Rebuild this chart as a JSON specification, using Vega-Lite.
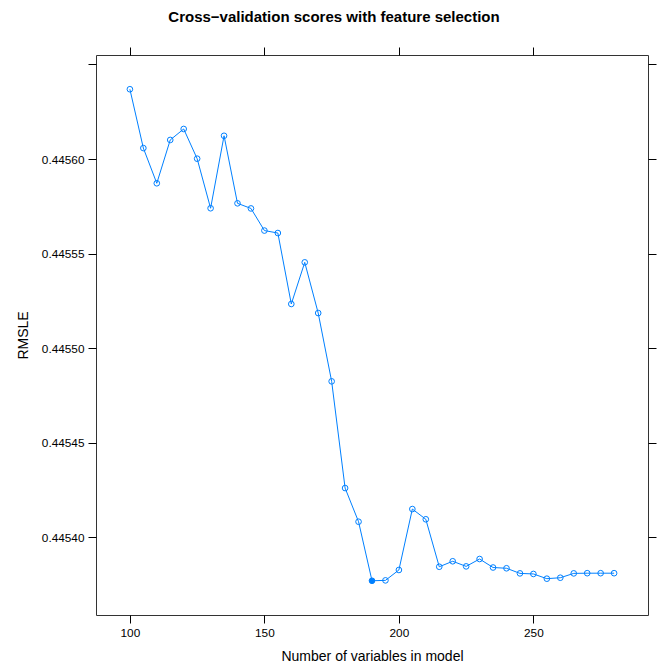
{
  "$schema": "https://vega.github.io/schema/vega-lite/v6.json",
  "width": 552,
  "height": 560,
  "autosize": {"type": "none"},
  "padding": {"left": 96, "top": 55, "right": 19, "bottom": 51},
  "background": "white",
  "title": {
    "text": "Cross−validation scores with feature selection",
    "font": "Liberation Sans",
    "fontSize": 15,
    "fontWeight": "bold",
    "color": "black",
    "anchor": "middle",
    "frame": "group",
    "dx": -38,
    "offset": 22
  },
  "config": {
    "view": {"stroke": "#333", "strokeWidth": 1},
    "axis": {
      "grid": false,
      "domain": false,
      "tickColor": "black",
      "tickSize": 8,
      "tickWidth": 1,
      "labelFont": "Liberation Sans",
      "labelFontSize": 11.8,
      "labelColor": "black",
      "titleFont": "Liberation Sans",
      "titleFontSize": 14,
      "titleFontWeight": "normal",
      "titleColor": "black"
    }
  },
  "data": {
    "values": [
      {"n": 100, "rmsle": 0.4456369, "best": false},
      {"n": 105, "rmsle": 0.4456058, "best": false},
      {"n": 110, "rmsle": 0.4455872, "best": false},
      {"n": 115, "rmsle": 0.4456101, "best": false},
      {"n": 120, "rmsle": 0.4456159, "best": false},
      {"n": 125, "rmsle": 0.4456002, "best": false},
      {"n": 130, "rmsle": 0.4455740, "best": false},
      {"n": 135, "rmsle": 0.4456123, "best": false},
      {"n": 140, "rmsle": 0.4455766, "best": false},
      {"n": 145, "rmsle": 0.4455739, "best": false},
      {"n": 150, "rmsle": 0.4455622, "best": false},
      {"n": 155, "rmsle": 0.4455609, "best": false},
      {"n": 160, "rmsle": 0.4455234, "best": false},
      {"n": 165, "rmsle": 0.4455454, "best": false},
      {"n": 170, "rmsle": 0.4455186, "best": false},
      {"n": 175, "rmsle": 0.4454825, "best": false},
      {"n": 180, "rmsle": 0.4454261, "best": false},
      {"n": 185, "rmsle": 0.4454083, "best": false},
      {"n": 190, "rmsle": 0.4453771, "best": true},
      {"n": 195, "rmsle": 0.4453773, "best": false},
      {"n": 200, "rmsle": 0.4453828, "best": false},
      {"n": 205, "rmsle": 0.4454150, "best": false},
      {"n": 210, "rmsle": 0.4454096, "best": false},
      {"n": 215, "rmsle": 0.4453845, "best": false},
      {"n": 220, "rmsle": 0.4453874, "best": false},
      {"n": 225, "rmsle": 0.4453847, "best": false},
      {"n": 230, "rmsle": 0.4453886, "best": false},
      {"n": 235, "rmsle": 0.4453841, "best": false},
      {"n": 240, "rmsle": 0.4453837, "best": false},
      {"n": 245, "rmsle": 0.4453810, "best": false},
      {"n": 250, "rmsle": 0.4453807, "best": false},
      {"n": 255, "rmsle": 0.4453782, "best": false},
      {"n": 260, "rmsle": 0.4453787, "best": false},
      {"n": 265, "rmsle": 0.4453810, "best": false},
      {"n": 270, "rmsle": 0.4453811, "best": false},
      {"n": 275, "rmsle": 0.4453811, "best": false},
      {"n": 280, "rmsle": 0.4453811, "best": false}
    ]
  },
  "encoding": {
    "x": {
      "field": "n",
      "type": "quantitative",
      "scale": {"domain": [87.4, 292.6], "nice": false, "zero": false}
    },
    "y": {
      "field": "rmsle",
      "type": "quantitative",
      "scale": {"domain": [0.445359, 0.445655], "nice": false, "zero": false}
    }
  },
  "layer": [
    {
      "mark": {"type": "line", "color": "#0080ff", "strokeWidth": 1},
      "encoding": {
        "x": {
          "field": "n",
          "type": "quantitative",
          "axis": {
            "orient": "bottom",
            "values": [100, 150, 200, 250],
            "title": "Number of variables in model",
            "labelPadding": 4,
            "titlePadding": 11
          }
        },
        "y": {
          "field": "rmsle",
          "type": "quantitative",
          "axis": {
            "orient": "left",
            "values": [0.4454, 0.44545, 0.4455, 0.44555, 0.4456, 0.44565],
            "labelExpr": "datum.value > 0.445625 ? '' : format(datum.value, '.5f')",
            "title": "RMSLE",
            "labelPadding": 4,
            "titlePadding": 11
          }
        }
      }
    },
    {
      "mark": {"type": "point", "filled": false, "color": "#0080ff", "size": 32, "strokeWidth": 1, "opacity": 1},
      "encoding": {
        "x": {
          "field": "n",
          "type": "quantitative",
          "axis": {
            "orient": "top",
            "values": [100, 150, 200, 250],
            "labels": false,
            "title": null
          }
        },
        "y": {
          "field": "rmsle",
          "type": "quantitative",
          "axis": {
            "orient": "right",
            "values": [0.4454, 0.44545, 0.4455, 0.44555, 0.4456, 0.44565],
            "labels": false,
            "title": null
          }
        }
      }
    },
    {
      "transform": [{"filter": "datum.best"}],
      "mark": {"type": "point", "filled": true, "color": "#0080ff", "size": 32, "opacity": 1},
      "encoding": {
        "x": {"field": "n", "type": "quantitative", "axis": null},
        "y": {"field": "rmsle", "type": "quantitative", "axis": null}
      }
    }
  ],
  "resolve": {"axis": {"x": "independent", "y": "independent"}}
}
